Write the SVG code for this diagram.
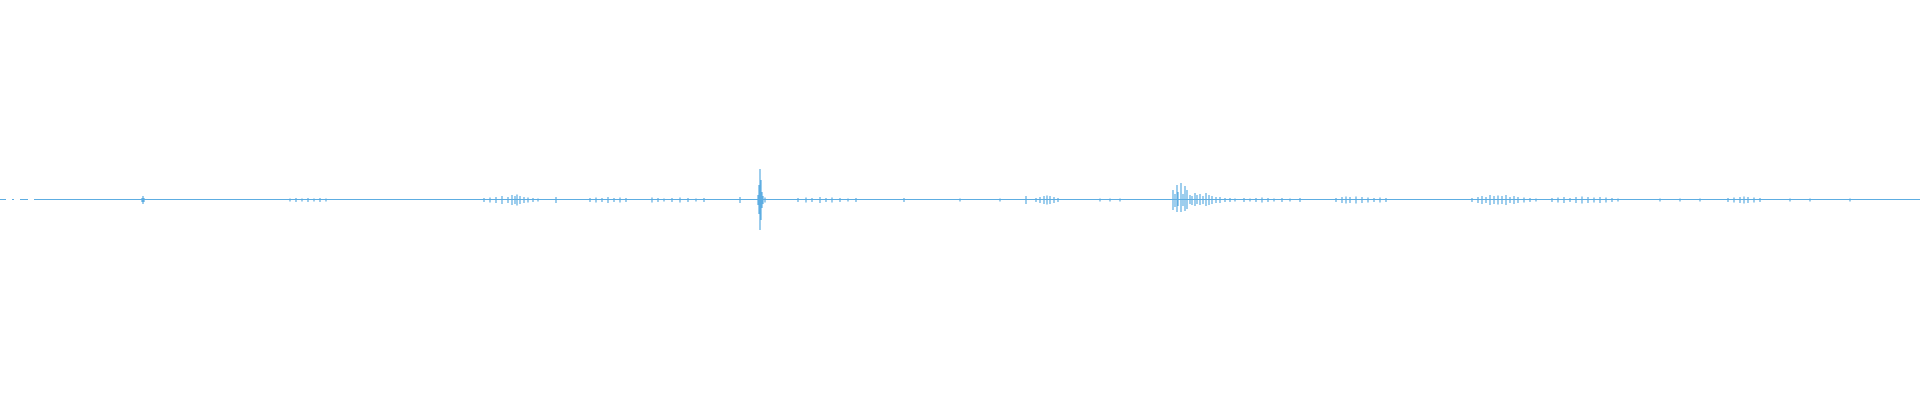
<svg xmlns="http://www.w3.org/2000/svg" width="1920" height="400" viewBox="0 0 1920 400">
<style>.w{stroke:#5dade2;stroke-width:1.2;fill:none}</style>
<rect width="1920" height="400" fill="#fff"/>
<g class="w">
<path d="M0,199.5H6M12,199.5H14M20,199.5H28M34,199.5H1920"/>
<path d="M143,196V204M142,198V202M144,198V202"/>
<path d="M290,198.5V201.5M296,198V202M302,198.5V201.5M308,198V202M314,198.5V201.5M320,198V202M326,198.5V201.5"/>
<path d="M484,198V202M490,197.5V202.5M496,197V203M502,196V204M508,197V203M512,195V205M515,196V204M517,194.5V205.5M520,196V204M524,197V203M528,197.5V202.5M533,198V202M538,198.5V201.5"/>
<path d="M556,197V203M590,198V202M596,197.5V202.5M602,198V202M608,197V203M614,198V202M620,197.5V202.5M626,198V202"/>
<path d="M652,197.5V202.5M658,198V202M664,198.5V201.5M672,198V202M680,197.5V202.5M688,198V202M696,198.5V201.5M704,198V202"/>
<path d="M740,197V203M760,169V230M759,185V214M761,180V220M762,192V208M758,195V205M763,196V204M765,197.5V202.5"/>
<path d="M798,198V202M806,197.5V202.5M812,198V202M820,197V203M826,198V202M832,197.5V202.5M840,198V202M848,198.5V201.5M856,198V202"/>
<path d="M904,198V202M960,198.5V201.5M1000,198.5V201.5"/>
<path d="M1026,196V204M1036,198V202M1040,197V203M1044,196V204M1047,195.5V204.5M1050,196V204M1054,197V203M1058,198V202"/>
<path d="M1100,198.5V201.5M1110,198.5V201.5M1120,198.5V201.5"/>
<path d="M1173,190V210M1175,194V207M1177,185V212M1178,192V206M1181,183V212M1183,194V206M1185,186V211M1187,190V209M1190,195V204M1192,196V205M1195,193V206M1197,195V204M1200,194V205M1203,196V204M1206,193V206M1209,195V205M1212,196V204M1216,197V203M1220,197V203M1225,198V202M1230,198V202M1235,198.5V201.5"/>
<path d="M1244,198V202M1250,198.5V201.5M1256,198V202M1262,197.5V202.5M1268,198V202M1274,198.5V201.5M1282,198V202M1290,198.5V201.5M1300,198V202"/>
<path d="M1336,198V202M1342,197V203M1346,196.5V203.5M1350,197V203M1356,196.5V203.5M1362,197V203M1368,197.5V202.5M1374,198V202M1380,197.5V202.5M1386,198V202"/>
<path d="M1472,198V202M1478,197V203M1482,196V204M1486,197V203M1490,195V205M1494,196V204M1498,195.5V204.5M1502,196V204M1506,195V205M1510,197V203M1514,196V204M1518,197V203M1524,197.5V202.5M1530,198V202M1536,198.5V201.5"/>
<path d="M1552,198V202M1558,197.5V202.5M1564,197V203M1570,198V202M1576,197V203M1582,196.5V203.5M1588,197V203M1594,197.5V202.5M1600,197V203M1606,197.5V202.5M1612,198V202M1618,198.5V201.5"/>
<path d="M1660,198.5V201.5M1680,198.5V201.5M1700,198.5V201.5"/>
<path d="M1728,198V202M1734,197.5V202.5M1740,197V203M1744,196.5V203.5M1748,197V203M1754,197.5V202.5M1760,198V202M1790,198.5V201.5M1810,198.5V201.5M1850,198.5V201.5"/>
</g>
</svg>
